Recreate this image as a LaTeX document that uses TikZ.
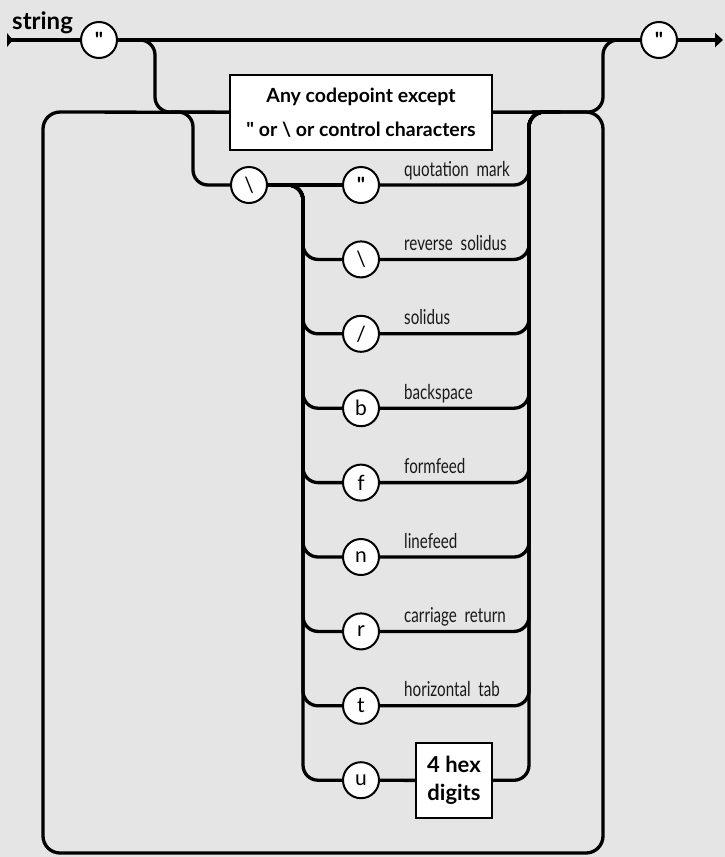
\documentclass[tikz,border=0pt]{standalone}
\usepackage{fontspec}
\setmainfont{Lato}[Ligatures=TeXOff]
\newfontfamily\fonterotulo[FakeStretch=0.74]{Lato}
\usetikzlibrary{arrows.meta}
\definecolor{fundo}{RGB}{229,229,229}

\begin{document}
\begin{tikzpicture}[x=1pt, y=-1pt,
    trilho/.style={line width=3.3pt, rounded corners=15pt},
    letra/.style={circle, draw, line width=2pt, fill=white, minimum size=36pt, inner sep=0pt, font=\fontsize{21}{21}\selectfont},
    caixa/.style={draw, line width=2pt, fill=white, inner sep=0pt, align=center, font=\bfseries\fontsize{19.5}{34}\selectfont},
    rotulo/.style={anchor=base west, inner sep=0pt, text=black!90, font=\fonterotulo\fontsize{20.5}{20}\selectfont}]
        \fill[fundo] (0,0) rectangle (725,857); % Fundo
        \useasboundingbox (0,0) rectangle (725,857);

        \node[anchor=base west, inner sep=0pt, font=\bfseries\fontsize{24}{24}\selectfont] (titulo) at (12,29) {string}; % Nome
        \coordinate (ini) at (7,40); % Entrada
        \coordinate (fim) at (723,40); % Saida
        \coordinate (ramo) at (170,112); % Desvio para o escape
        \coordinate (volta) at (560,112); % Retorno do escape

        \node[letra] (q1) at (99,40) {\bfseries "}; % Aspas de abertura
        \node[letra] (q2) at (659,40) {\bfseries "}; % Aspas de fechamento
        \node[caixa, minimum width=262pt, minimum height=75pt] (cp) at (361,112.5) {Any codepoint except\\" or \textbackslash{} or control characters};
        \node[letra] (bs) at (249,185) {\textbackslash};

        \node[letra] (e1) at (361,185) {\bfseries "};
        \node[letra] (e2) at (361,259.4) {\textbackslash};
        \node[letra] (e3) at (361,333.8) {/};
        \node[letra] (e4) at (361,408.2) {b};
        \node[letra] (e5) at (361,482.6) {f};
        \node[letra] (e6) at (361,557) {n};
        \node[letra] (e7) at (361,631.4) {r};
        \node[letra] (e8) at (361,705.8) {t};
        \node[letra] (e9) at (361,780.2) {u};
        \node[caixa, minimum width=76pt, minimum height=75pt, font=\bfseries\fontsize{22}{28}\selectfont] (hex) at (454,780.5) {4 hex\\digits};

        \node[rotulo] (l1) at (404,176) {quotation\ \ mark};
        \node[rotulo] (l2) at (404,250.4) {reverse\ \ solidus};
        \node[rotulo] (l3) at (404,324.8) {solidus};
        \node[rotulo] (l4) at (404,399.2) {backspace};
        \node[rotulo] (l5) at (404,473.6) {formfeed};
        \node[rotulo] (l6) at (404,548) {linefeed};
        \node[rotulo] (l7) at (404,622.4) {carriage\ \ return};
        \node[rotulo] (l8) at (404,696.8) {horizontal\ \ tab};

        \fill (ini) ++(0,-7) -- ++(6,7) -- ++(-6,7) -- cycle; % Ponta de entrada
        \draw[trilho] (ini) -- (q1);
        \draw[trilho] (q1) -- (q2); % Linha principal
        \draw[trilho, -{Triangle[length=8pt, width=14pt]}] (q2) -- (fim);
        \draw[trilho] (q1) -- (155,40) -- (155,112) -- (cp); % Desce para a caixa
        \draw[trilho] (cp) -- (603,112) -- (603,40) -- (q2); % Sobe para o fim
        \draw[trilho, rounded corners=17pt] (cp) -- (603,112) -- (603,853) -- (43,853) -- (43,112) -- (cp); % Laco
        \draw[trilho] (ramo) -- (193,112) -- (193,185) -- (bs);

        \draw[trilho] (bs) -- (e1);
        \draw[trilho] (e1) -- (529,185) -- (529,112) -- (volta);
        \draw[trilho] (bs) -- (303,185) -- (303,259.4) -- (e2);
        \draw[trilho] (e2) -- (529,259.4) -- (529,112) -- (volta);
        \draw[trilho] (bs) -- (303,185) -- (303,333.8) -- (e3);
        \draw[trilho] (e3) -- (529,333.8) -- (529,112) -- (volta);
        \draw[trilho] (bs) -- (303,185) -- (303,408.2) -- (e4);
        \draw[trilho] (e4) -- (529,408.2) -- (529,112) -- (volta);
        \draw[trilho] (bs) -- (303,185) -- (303,482.6) -- (e5);
        \draw[trilho] (e5) -- (529,482.6) -- (529,112) -- (volta);
        \draw[trilho] (bs) -- (303,185) -- (303,557) -- (e6);
        \draw[trilho] (e6) -- (529,557) -- (529,112) -- (volta);
        \draw[trilho] (bs) -- (303,185) -- (303,631.4) -- (e7);
        \draw[trilho] (e7) -- (529,631.4) -- (529,112) -- (volta);
        \draw[trilho] (bs) -- (303,185) -- (303,705.8) -- (e8);
        \draw[trilho] (e8) -- (529,705.8) -- (529,112) -- (volta);
        \draw[trilho] (bs) -- (303,185) -- (303,780.2) -- (e9);
        \draw[trilho] (e9) -- (hex);
        \draw[trilho] (hex) -- (529,780.2) -- (529,112) -- (volta);
    \end{tikzpicture}
\end{document}
